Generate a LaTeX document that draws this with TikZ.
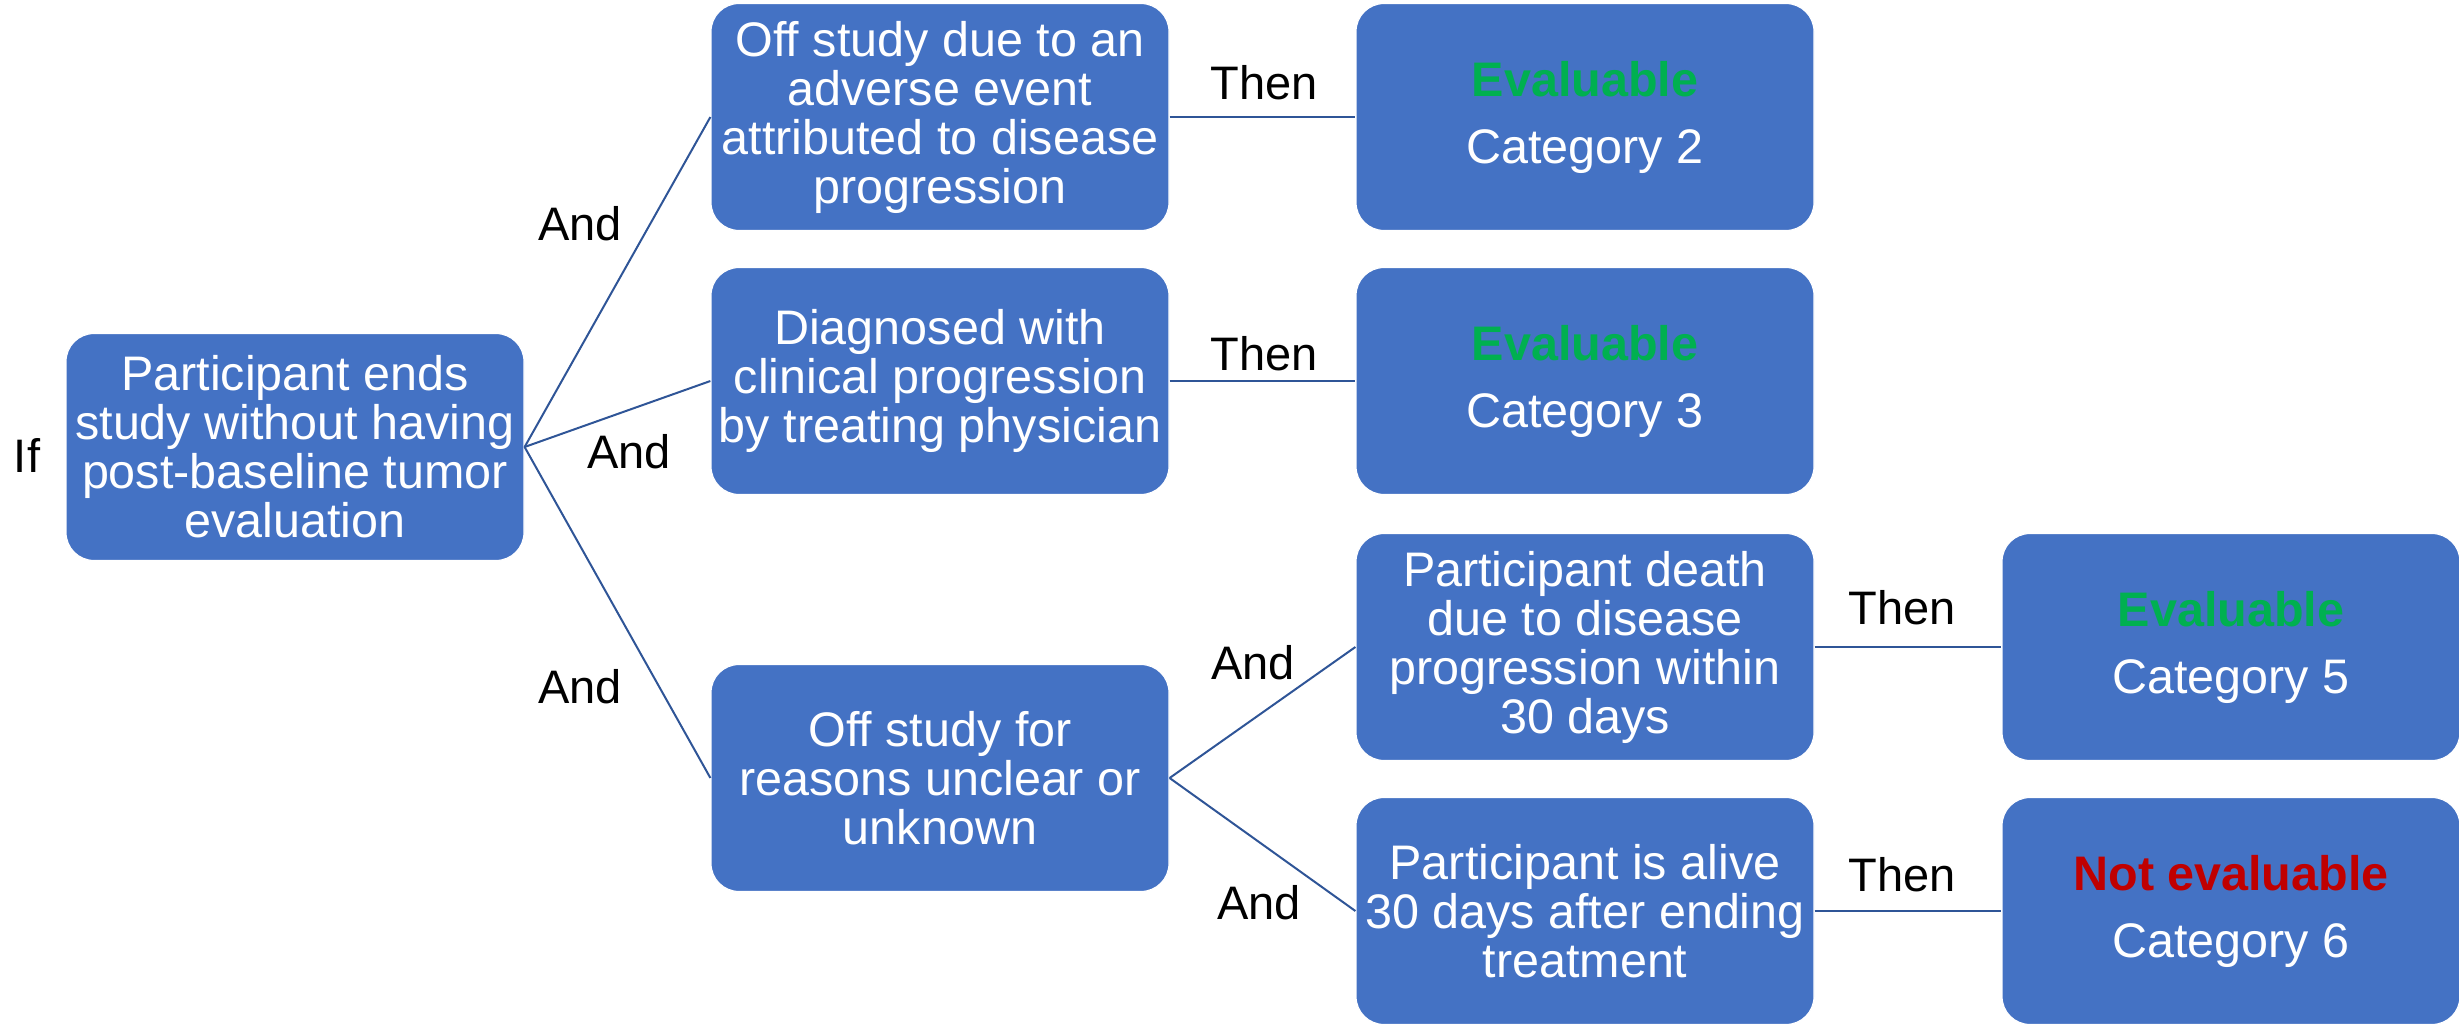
\documentclass[tikz,border=0pt]{standalone}
\usepackage{fontspec}
\setmainfont{Liberation Sans}
\definecolor{boxblue}{HTML}{4472C4}
\definecolor{linkblue}{HTML}{2F5597}
\definecolor{evgreen}{HTML}{00B050}
\definecolor{nered}{HTML}{C00000}
\begin{document}
\begin{tikzpicture}[x=1pt,y=-1pt,
  box/.style={rectangle, rounded corners=28pt, fill=boxblue, draw=white, line width=1.2pt,
    minimum width=458pt, minimum height=227pt, text=white, align=center,
    font=\fontsize{48.5}{49}\selectfont, inner sep=4pt},
  lab/.style={font=\fontsize{47}{49}\selectfont, text=black},
  link/.style={draw=linkblue, line width=2pt}]
\useasboundingbox (0,0) rectangle (2459,1024);
\node[box] (root) at (295,447) {Participant ends\\study without having\\post-baseline tumor\\evaluation};
\node[box] (b1) at (940,117) {Off study due to an\\adverse event\\attributed to disease\\progression};
\node[box] (b2) at (940,381) {Diagnosed with\\clinical progression\\by treating physician};
\node[box] (b3) at (940,778) {Off study for\\reasons unclear or\\unknown};
\node[box] (c1) at (1585,117) {\textbf{\color{evgreen}Evaluable}\\[18pt]Category 2};
\node[box] (c2) at (1585,381) {\textbf{\color{evgreen}Evaluable}\\[18pt]Category 3};
\node[box] (c3) at (1585,647) {Participant death\\due to disease\\progression within\\30 days};
\node[box] (c4) at (1585,911) {Participant is alive\\30 days after ending\\treatment};
\node[box] (d1) at (2231,647) {\textbf{\color{evgreen}Evaluable}\\[18pt]Category 5};
\node[box] (d2) at (2231,911) {\textbf{\color{nered}Not evaluable}\\[18pt]Category 6};
\draw[link] (root.east) -- (b1.west);
\draw[link] (root.east) -- (b2.west);
\draw[link] (root.east) -- (b3.west);
\draw[link] (b3.east) -- (c3.west);
\draw[link] (b3.east) -- (c4.west);
\draw[link] (b1.east) -- (c1.west);
\draw[link] (b2.east) -- (c2.west);
\draw[link] (c3.east) -- (d1.west);
\draw[link] (c4.east) -- (d2.west);
\node[lab] (lif) at (27,455) {If};
\node[lab] (and1) at (580,224) {And};
\node[lab] (and2) at (629,452) {And};
\node[lab] (and3) at (580,687) {And};
\node[lab] (and4) at (1253,663) {And};
\node[lab] (and5) at (1259,903) {And};
\node[lab] (then1) at (1264,83) {Then};
\node[lab] (then2) at (1264,354) {Then};
\node[lab] (then3) at (1902,608) {Then};
\node[lab] (then4) at (1902,875) {Then};
\end{tikzpicture}
\end{document}
